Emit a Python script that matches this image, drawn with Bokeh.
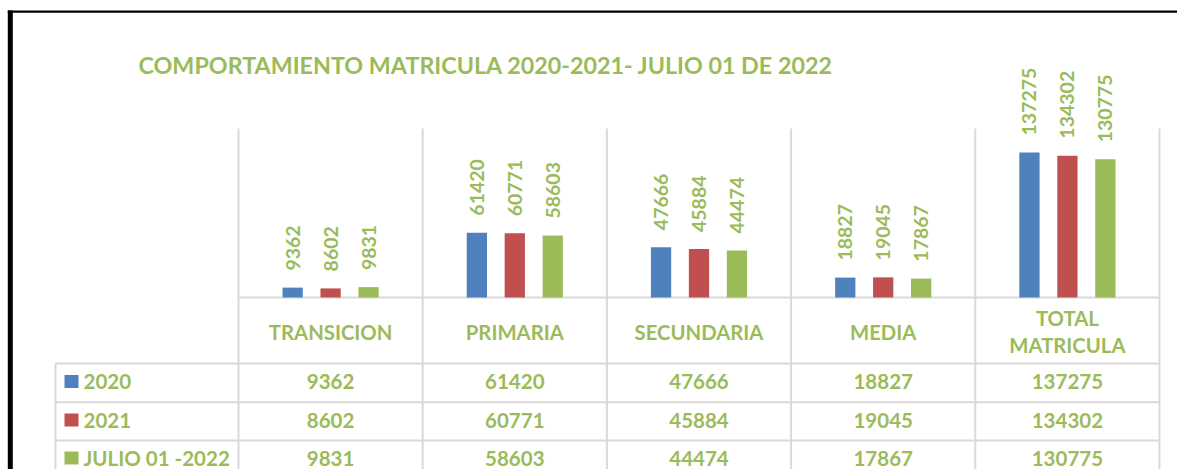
import numpy as np
from bokeh.plotting import figure
from bokeh.models import Range1d, ColumnDataSource
from bokeh.transform import dodge
from bokeh.core.properties import value
from bokeh.embed import file_html
from bokeh.resources import INLINE

# ---------------- data ----------------
categories = ["TRANSICION", "PRIMARIA", "SECUNDARIA", "MEDIA", "TOTAL\nMATRICULA"]
series_names = ["2020", "2021", "JULIO 01 -2022"]
values_2020 = [9362, 61420, 47666, 18827, 137275]
values_2021 = [8602, 60771, 45884, 19045, 134302]
values_2022 = [9831, 58603, 44474, 17867, 130775]
series_colors = ["#4F81BD", "#C0504D", "#9BBB59"]
title_text = "COMPORTAMIENTO MATRICULA 2020-2021- JULIO 01 DE 2022"
y_axis_max = 160000

# ---------------- layout (pixels) ----------------
W, H = 1177, 469
PLOT_LEFT, PLOT_RIGHT = 238.0, 1159.0
PLOT_TOP, BASE = 128.0, 297.0
TABLE_LEFT = 55.0
HEADER_Y = 331.0
ROW_LINES = [363.0, 401.7, 440.0]
ROW_CENTERS = [381.0, 419.5, 457.5]
GREEN_TXT = "#9BBB59"
GRID = "#D9D9D9"
FONT = value("Lato")
LABEL_GAP = 17.0
BAR_OFFSET = 0.206
BAR_W = 0.11

cw = (PLOT_RIGHT - PLOT_LEFT) / len(categories)
k = (BASE - PLOT_TOP) / y_axis_max

p = figure(width=W, height=H, x_range=Range1d(0, W), y_range=Range1d(H, 0),
           output_backend="svg", toolbar_location=None, min_border=0,
           x_axis_location=None, y_axis_location=None)
p.xgrid.grid_line_color = None
p.ygrid.grid_line_color = None
p.outline_line_color = None
p.background_fill_color = "white"
p.border_fill_color = "white"
p.extra_x_ranges = {"cat": Range1d(-PLOT_LEFT / cw, (W - PLOT_LEFT) / cw)}
p.extra_y_ranges = {"val": Range1d(-(H - BASE) / k, BASE / k)}

# frame borders (black)
p.quad(left=[7.3, 7.3], right=[12.3, W], top=[10, 10], bottom=[H, 12.3],
       fill_color="black", line_color=None)

# grid / table lines
ncat = len(categories)
p.segment(x0=list(range(ncat + 1)), x1=list(range(ncat + 1)),
          y0=[PLOT_TOP] * (ncat + 1), y1=[H] * (ncat + 1),
          x_range_name="cat", line_color=GRID, line_width=2)
p.segment(x0=[0], x1=[ncat], y0=[BASE], y1=[BASE], x_range_name="cat",
          line_color=GRID, line_width=2)
p.segment(x0=[TABLE_LEFT] * 3, x1=[PLOT_RIGHT] * 3, y0=ROW_LINES, y1=ROW_LINES,
          line_color=GRID, line_width=2)
p.segment(x0=[TABLE_LEFT], x1=[TABLE_LEFT], y0=[ROW_LINES[0]], y1=[H],
          line_color=GRID, line_width=2)

# bars + labels
all_series = [values_2020, values_2021, values_2022]
offsets = [-BAR_OFFSET, 0.0, BAR_OFFSET]
xs = [i + 0.5 for i in range(ncat)]
for vals, col, off in zip(all_series, series_colors, offsets):
    src = ColumnDataSource(dict(x=xs, v=vals, lab=[str(v) for v in vals],
                                ly=[v + LABEL_GAP / k for v in vals]))
    p.vbar(x=dodge("x", off), top="v", bottom=0, width=BAR_W, source=src,
           x_range_name="cat", y_range_name="val", fill_color=col, line_color=None)
    p.text(x=dodge("x", off), y="ly", text="lab", source=src, angle=np.pi / 2,
           text_align="left", text_baseline="middle", x_range_name="cat",
           y_range_name="val", text_color=GREEN_TXT, text_font=FONT,
           text_font_style="bold", text_font_size="19.5px")

# title
p.text(x=[138], y=[64], text=[title_text], text_align="left", text_baseline="middle",
       text_color=GREEN_TXT, text_font=FONT, text_font_style="bold", text_font_size="23.3px")

# header row
p.text(x=xs, y=[HEADER_Y] * ncat, text=categories, x_range_name="cat",
       text_align="center", text_baseline="middle", text_color=GREEN_TXT,
       text_font=FONT, text_font_style="bold", text_font_size="20.3px",
       text_line_height=1.14)

# table rows
for j, (vals, col, name) in enumerate(zip(all_series, series_colors, series_names)):
    yc = ROW_CENTERS[j]
    p.rect(x=[71], y=[yc], width=14, height=13, fill_color=col, line_color=None)
    p.text(x=[83], y=[yc], text=[name], text_align="left", text_baseline="middle",
           text_color=GREEN_TXT, text_font=FONT, text_font_style="bold",
           text_font_size="20.5px")
    p.text(x=xs, y=[yc] * ncat, text=[str(v) for v in vals], x_range_name="cat",
           text_align="center", text_baseline="middle", text_color=GREEN_TXT,
           text_font=FONT, text_font_style="bold", text_font_size="20.5px")

open("out.html", "w").write(file_html(p, INLINE))
